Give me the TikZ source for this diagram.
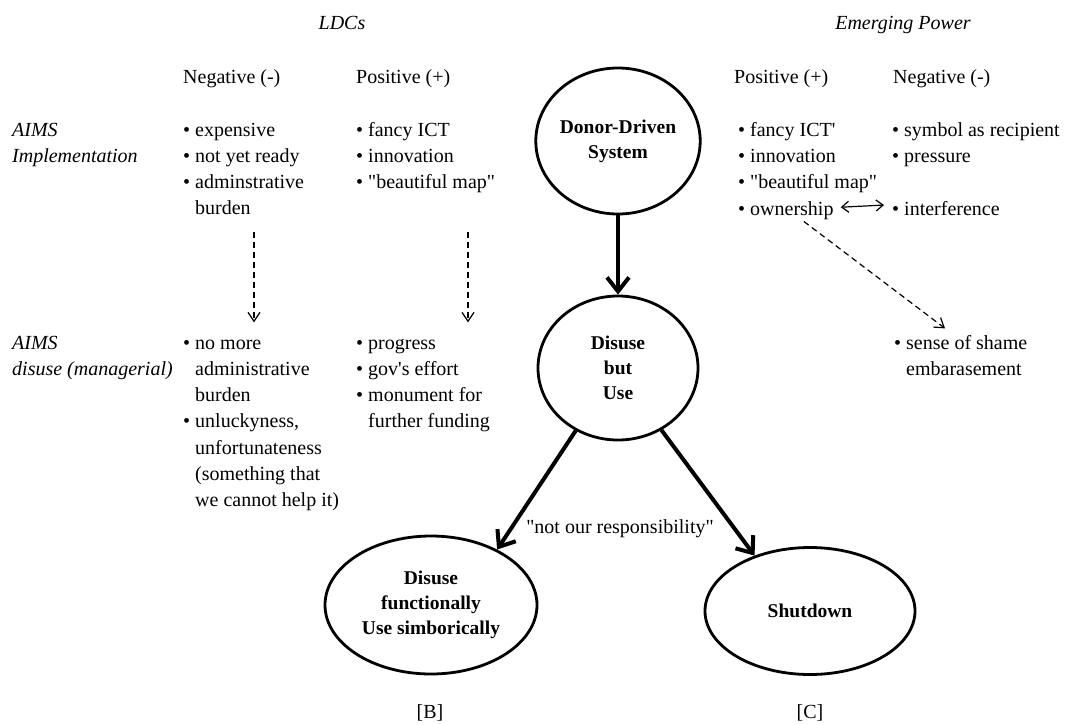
\documentclass[tikz,border=0pt]{standalone}
\usepackage{fontspec}
\setmainfont{Liberation Serif}
\usetikzlibrary{arrows.meta,shapes.geometric}

% left-aligned block of lines whose baseline is the first line
\newcommand\linesblock[1]{\begin{tabular}[t]{@{}l@{}}#1\end{tabular}}
\newcommand\bul{\textbullet\ }
\newcommand\hang{\hphantom{\textbullet\ }}
\newcommand\dq{\textquotedbl}

\begin{document}
\begin{tikzpicture}[x=1pt,y=-1pt,
  txt/.style={inner sep=0pt, anchor=base west,
              font=\fontsize{20}{26.3}\selectfont},
  rowlabel/.style={txt, font=\fontsize{20}{26.3}\selectfont\itshape},
  hdr/.style={inner sep=0pt, anchor=base, font=\fontsize{20}{24}\selectfont\itshape},
  stage/.style={ellipse, draw, line width=2.8pt, inner sep=0pt, align=center,
                font=\fontsize{19.5}{25}\selectfont\bfseries},
  flow/.style={line width=4pt, -{Straight Barb[length=14pt,width=22pt]}},
  hint/.style={line width=1.2pt, dash pattern=on 6pt off 4pt,
               -{Straight Barb[length=9pt,width=12pt]}},
  both/.style={line width=1.2pt, {Straight Barb[length=7pt,width=11pt]}-{Straight Barb[length=7pt,width=11pt]}},
]
\useasboundingbox (0,0) rectangle (1071,724);

% column headings
\node[hdr] (ldc) at (342,29) {LDCs};
\node[hdr] (emp) at (903,29) {Emerging Power};
\node[txt] (hln) at (183,83) {Negative (-)};
\node[txt] (hlp) at (356,83) {Positive (+)};
\node[txt] (hrp) at (734,83) {Positive (+)};
\node[txt] (hrn) at (893,83) {Negative (-)};

% row labels
\node[rowlabel] (rowa) at (12,136) {\linesblock{AIMS\\Implementation}};
\node[rowlabel] (rowb) at (12,349) {\linesblock{AIMS\\disuse (managerial)}};

% implementation row
\node[txt] (ln1) at (183,136) {\linesblock{\bul expensive\\\bul not yet ready\\\bul adminstrative\\\hang burden}};
\node[txt] (lp1) at (356,136) {\linesblock{\bul fancy ICT\\\bul innovation\\\bul \dq beautiful map\dq}};
\node[txt] (rp1) at (738,136) {\linesblock{\bul fancy ICT\textquotesingle\\\bul innovation\\\bul \dq beautiful map\dq}};
\node[txt] (own) at (738,215) {\bul ownership};
\node[txt] (rn1) at (892,136) {\linesblock{\bul symbol as recipient\\\bul pressure}};
\node[txt] (intf) at (892,215) {\bul interference};

% disuse row
\node[txt] (ln2) at (183,349) {\linesblock{\bul no more\\\hang administrative\\\hang burden\\\bul unluckyness,\\\hang unfortunateness\\\hang (something that\\\hang we cannot help it)}};
\node[txt] (lp2) at (356,349) {\linesblock{\bul progress\\\bul gov\textquotesingle s effort\\\bul monument for\\\hang further funding}};
\node[txt] (shame) at (894,349) {\linesblock{\bul sense of shame\\\hang embarasement}};

% stages
\node[stage, minimum width=156pt, minimum height=146pt] (dds) at (618,141) {Donor-Driven\\System};
\node[stage, minimum width=160pt, minimum height=144pt] (dbu) at (618,368) {Disuse\\but\\Use};
\node[stage, minimum width=212pt, minimum height=138pt] (dfu) at (431,605) {Disuse\\functionally\\Use simborically};
\node[stage, minimum width=210pt, minimum height=127pt] (sd) at (810,611) {Shutdown};

% main flow
\draw[flow] (dds) -- (dbu);
\draw[flow] (dbu.236) -- (dfu.40);
\draw[flow] (dbu.305) -- (sd.135);
\node[txt, anchor=base] (nor) at (620,533) {\dq not our responsibility\dq};

% dashed links between rows
\draw[hint] ([xshift=71pt,yshift=-9pt]ln1.south west) -- ([xshift=71pt,yshift=8pt]ln2.north west);
\draw[hint] ([xshift=112pt,yshift=-35pt]lp1.south west) -- ([xshift=112pt,yshift=8pt]lp2.north west);
\draw[both] ([xshift=7pt,yshift=3pt]own.east) -- ([xshift=-8pt,yshift=3pt]intf.west);
\draw[hint] ([xshift=18pt,yshift=-2pt]own.south) -- ([xshift=51pt,yshift=2pt]shame.north west);

% panel tags
\node[txt, anchor=base] (tagb) at (430,718) {[B]};
\node[txt, anchor=base] (tagc) at (810,718) {[C]};
\end{tikzpicture}
\end{document}
